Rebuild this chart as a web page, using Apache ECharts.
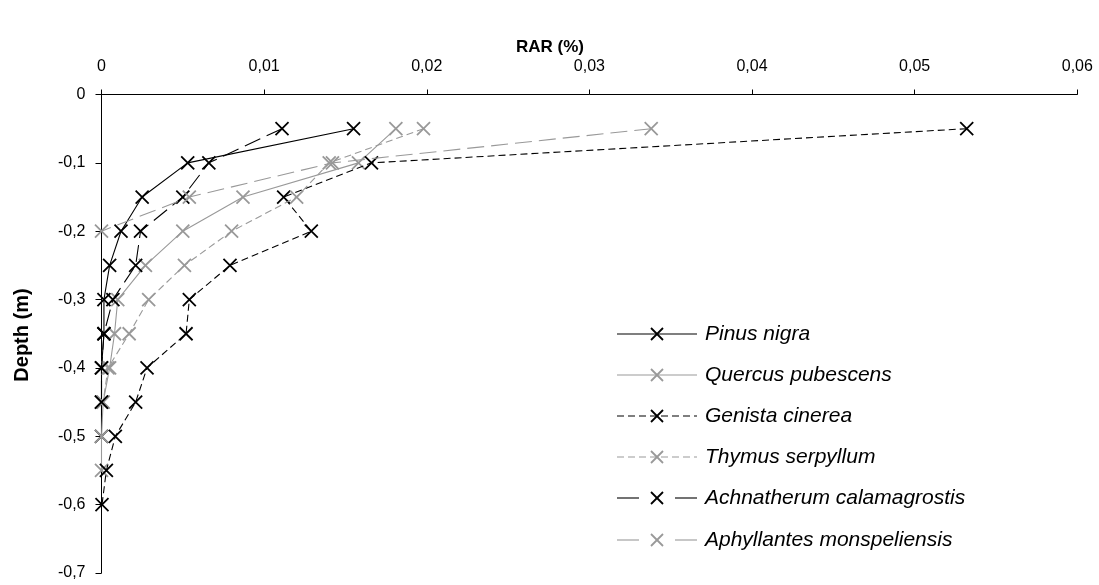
<!DOCTYPE html>
<html><head><meta charset="utf-8">
<script src="https://cdn.jsdelivr.net/npm/echarts@6/dist/echarts.min.js"></script>
<style>html,body{margin:0;padding:0;background:#fff}#c{width:1099px;height:585px}</style>
</head><body><div id="c"></div>
<script>
// ---- data ----
const depthLevels = [-0.05, -0.1, -0.15, -0.2, -0.25, -0.3, -0.35, -0.4, -0.45, -0.5, -0.55, -0.6];
const seriesNames = ['Pinus nigra', 'Quercus pubescens', 'Genista cinerea', 'Thymus serpyllum', 'Achnatherum calamagrostis', 'Aphyllantes monspeliensis'];
const pinusNigra = [0.0155, 0.0053, 0.0025, 0.0012, 0.0005, 0.00015, 0.00015, 0.0000, 0.0000, 0.0000];
const quercusPubescens = [0.0181, 0.0158, 0.0087, 0.0050, 0.0027, 0.0010, 0.0008, 0.0005, 0.0001, 0.0000, 0.0000];
const genistaCinerea = [0.0532, 0.0166, 0.0112, 0.0129, 0.0079, 0.0054, 0.0052, 0.0028, 0.0021, 0.00085, 0.0003, 0.00003];
const thymusSerpyllum = [0.0198, 0.0140, 0.0120, 0.0080, 0.0051, 0.0029, 0.0017, 0.0004, 0.0001];
const achnatherumCalamagrostis = [0.0111, 0.0066, 0.0050, 0.0024, 0.0021, 0.0007, 0.00015, 0.0000, 0.0000];
const aphyllantesMonspeliensis = [0.0338, 0.0142, 0.0054, 0.0000];
const xTicks = [0, 0.01, 0.02, 0.03, 0.04, 0.05, 0.06];
const yTicks = [0, -0.1, -0.2, -0.3, -0.4, -0.5, -0.6, -0.7];

// ---- styles ----
const BLACK = '#000000', GRAY = '#999999';
const SHORT = [7, 4], LONG = [17, 7];
const styles = [
  {color: BLACK, dash: 'solid'},
  {color: GRAY, dash: 'solid'},
  {color: BLACK, dash: SHORT},
  {color: GRAY, dash: SHORT},
  {color: BLACK, dash: LONG},
  {color: GRAY, dash: LONG}
];
const values = [pinusNigra, quercusPubescens, genistaCinerea, thymusSerpyllum, achnatherumCalamagrostis, aphyllantesMonspeliensis];
const XSYM = 'path://M0,0L10,10M0,10L10,0';
const FONT = '"Liberation Sans", Arial, sans-serif';

const series = values.map((vals, i) => ({
  name: seriesNames[i],
  type: 'line',
  data: vals.map((v, j) => [v, depthLevels[j]]),
  symbol: XSYM,
  symbolSize: 13,
  showSymbol: true,
  itemStyle: {color: 'rgba(0,0,0,0)', borderColor: styles[i].color, borderWidth: 1.8},
  lineStyle: {color: styles[i].color, width: 1.1, type: styles[i].dash},
  emphasis: {disabled: true},
  z: 2 + i
}));

function fmt(v, d) {
  if (Math.abs(v) < 1e-9) return '0';
  return v.toFixed(d).replace('.', ',');
}

// legend graphics
const legendRows = [334, 375, 416, 457, 498, 540];
const graphics = [];
seriesNames.forEach((n, i) => {
  const y = legendRows[i];
  const st = styles[i];
  const ld = st.dash === 'solid' ? null : st.dash;
  if (i === 4 || i === 5) {
    graphics.push({type: 'line', shape: {x1: 617, y1: y, x2: 639, y2: y}, style: {stroke: st.color, lineWidth: 1.1}});
    graphics.push({type: 'line', shape: {x1: 675, y1: y, x2: 697, y2: y}, style: {stroke: st.color, lineWidth: 1.1}});
  } else {
    graphics.push({type: 'line', shape: {x1: 617, y1: y, x2: 697, y2: y}, style: {stroke: st.color, lineWidth: 1.1, lineDash: ld}});
  }
  graphics.push({type: 'line', shape: {x1: 651, y1: y - 6, x2: 663, y2: y + 6}, style: {stroke: st.color, lineWidth: 1.8}});
  graphics.push({type: 'line', shape: {x1: 651, y1: y + 6, x2: 663, y2: y - 6}, style: {stroke: st.color, lineWidth: 1.8}});
  graphics.push({type: 'text', x: 705, y: y, style: {text: n, font: 'italic 21px ' + FONT, fill: '#000', textVerticalAlign: 'middle', textAlign: 'left'}});
});
graphics.push({type: 'text', x: 550, y: 47, style: {text: 'RAR (%)', font: 'bold 17px ' + FONT, fill: '#000', textAlign: 'center', textVerticalAlign: 'middle'}});
graphics.push({type: 'text', x: 22, y: 335, rotation: Math.PI / 2, style: {text: 'Depth (m)', font: 'bold 20px ' + FONT, fill: '#000', textAlign: 'center', textVerticalAlign: 'middle'}});

const chart = echarts.init(document.getElementById('c'), null, {renderer: 'canvas'});
chart.setOption({
  animation: false,
  backgroundColor: '#fff',
  grid: {left: 101.5, right: 21.7, top: 94.5, bottom: 12, containLabel: false},
  xAxis: {
    type: 'value', position: 'top', min: xTicks[0], max: xTicks[xTicks.length - 1], interval: 0.01,
    axisLine: {show: true, onZero: false, lineStyle: {color: '#000', width: 1}},
    axisTick: {show: true, length: 5, lineStyle: {color: '#000'}},
    splitLine: {show: false},
    axisLabel: {color: '#000', fontSize: 16, fontFamily: FONT, margin: 20, formatter: v => fmt(v, 2)}
  },
  yAxis: {
    type: 'value', min: yTicks[yTicks.length - 1], max: yTicks[0], interval: 0.1,
    axisLine: {show: true, onZero: false, lineStyle: {color: '#000', width: 1}},
    axisTick: {show: true, length: 6, lineStyle: {color: '#000'}},
    splitLine: {show: false},
    axisLabel: {color: '#000', fontSize: 16, fontFamily: FONT, margin: 16, formatter: v => fmt(v, 1)}
  },
  graphic: graphics,
  series: series
});
</script>
</body></html>
